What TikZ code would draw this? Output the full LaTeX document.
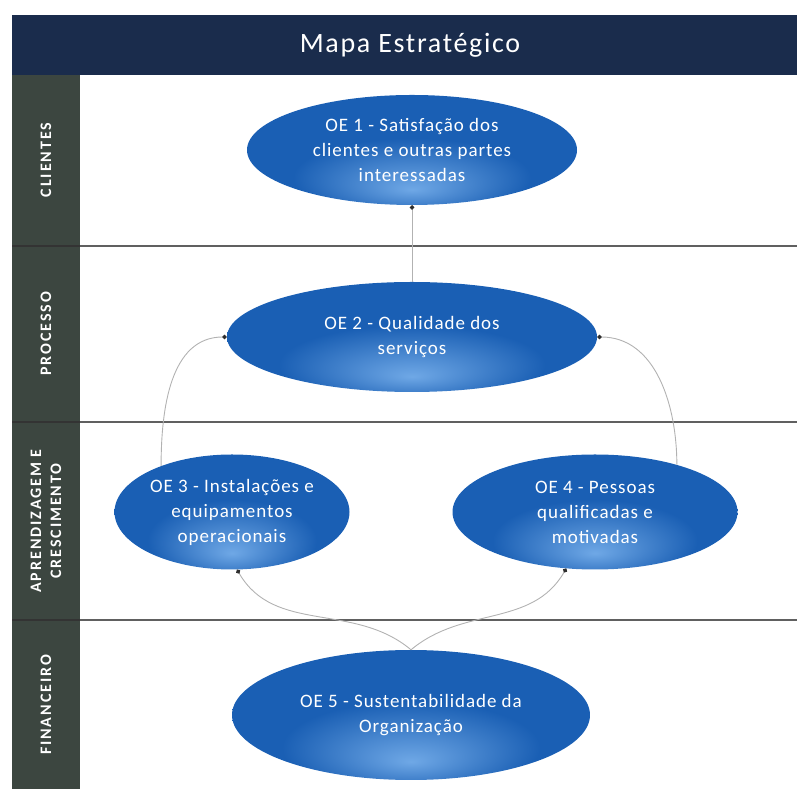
\documentclass[tikz,border=0pt]{standalone}
\usepackage{fontspec}
\setmainfont{Carlito}
\newfontfamily\titlefont[LetterSpace=6]{Carlito}
\newfontfamily\objfont[LetterSpace=5]{Carlito}
\newfontfamily\lanefont[LetterSpace=12]{Carlito}
\usetikzlibrary{shapes.geometric, arrows.meta, positioning}

\definecolor{navybar}{HTML}{1A2C4C}
\definecolor{lanegray}{HTML}{3C4640}
\definecolor{oedark}{HTML}{0C4690}
\definecolor{oemid}{HTML}{1A5FB4}
\definecolor{oelight}{HTML}{6FA8E6}
\pgfdeclareradialshading{oeball}{\pgfpoint{0bp}{-18bp}}{%
    color(0bp)=(oelight); color(18bp)=(oemid); color(34bp)=(oemid); color(48bp)=(oedark); color(60bp)=(oedark)}

\begin{document}
\begin{tikzpicture}[
    x=1pt, y=1pt,
    >={Circle[length=4.5pt, color=gray!35!black]},
    obj/.style={ellipse, shading=oeball, text=white, align=center, inner sep=0pt,
        font=\objfont\fontsize{19}{25}\selectfont, minimum height=110pt},
    lane/.style={rotate=90, text=white, font=\lanefont\bfseries\fontsize{16}{20}\selectfont, align=center},
    sep/.style={draw=gray!75!black, line width=1.4pt},
    link/.style={->, draw=gray!60, line width=0.9pt}
]
\useasboundingbox (0,0) rectangle (797,789);

% Title bar and lane column
\fill[navybar] (12,714) rectangle (797,774);
\node[text=white, font=\titlefont\fontsize{28}{32}\selectfont] (title) at (410,744) {Mapa Estratégico};
\fill[lanegray] (12,0) rectangle (80,714);

% Lane separators
\foreach \y in {543,367,169} {
    \draw[sep] (80,\y) -- (797,\y);
    \draw[black!80, line width=1.4pt] (12,\y) -- (80,\y);
}

% Lane labels
\node[lane] (clientes) at (46,629) {CLIENTES};
\node[lane] (processo) at (46,455) {PROCESSO};
\node[lane] (aprendizagem) at (46,268) {APRENDIZAGEM E\\CRESCIMENTO};
\node[lane] (financeiro) at (46,84) {FINANCEIRO};

% Objectives
\node[obj, minimum width=330pt] (oe1) at (412,639) {OE 1 - Satisfação dos\\clientes e outras partes\\interessadas};
\node[obj, minimum width=370pt] (oe2) at (412,452) {OE 2 - Qualidade dos\\serviços};
\node[obj, minimum width=235pt, minimum height=115pt, inner xsep=-12pt] (oe3) at (232,277) {OE 3 - Instalações e\\equipamentos\\operacionais};
\node[obj, minimum width=285pt, minimum height=115pt] (oe4) at (595,277) {OE 4 - Pessoas\\qualificadas e\\motivadas};
\node[obj, minimum width=358pt, minimum height=130pt] (oe5) at (411,74) {OE 5 - Sustentabilidade da\\Organização};

% Connectors
\draw[link] (oe2.north) -- (oe1.south);
\draw[link] (oe3.147) to[out=90, in=180] (oe2.west);
\draw[link] (oe4.30) to[out=90, in=0] (oe2.east);
\draw[link] (oe5.north) to[out=140, in=-60] (oe3.-85);
\draw[link] (oe5.north) to[out=40, in=-120] (oe4.-117);

\end{tikzpicture}
\end{document}
